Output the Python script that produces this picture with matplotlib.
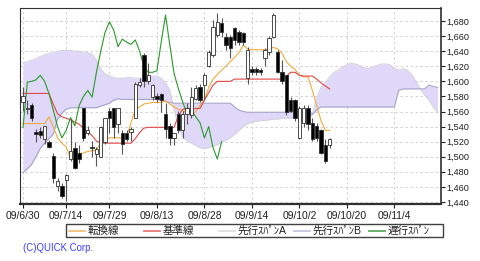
import matplotlib
matplotlib.use("Agg")
import matplotlib.pyplot as plt
from matplotlib.lines import Line2D
from matplotlib.patches import Rectangle

plt.rcParams['font.family'] = ['Liberation Sans', 'Noto Sans CJK JP', 'DejaVu Sans']

# daily candles, index = trading day from 09/6/30
opens = [1573, 1563, 1568, 1533, 1534, 1524, 1519, 1501, 1461, 1461,
         1469, 1497, 1512, 1505, 1565, 1531, 1513, 1503, 1500, 1519,
         1561, 1564, 1544, 1532, 1532, 1533, 1552, 1595, 1635, 1601,
         1579, 1581, 1583, 1557, 1541, 1525, 1557, 1535, 1557, 1555,
         1577, 1593, 1595, 1621, 1635, 1661, 1677, 1659, 1659, 1671,
         1665, 1664, 1604, 1617, 1616, 1615, 1631, 1639, 1659, 1639,
         1612, 1608, 1575, 1575, 1525, 1545, 1565, 1545, 1541, 1535,
         1515, 1516]
highs = [1592, 1575, 1571, 1537, 1540, 1541, 1522, 1505, 1472, 1465,
         1477, 1550, 1519, 1515, 1565, 1541, 1521, 1513, 1541, 1552,
         1564, 1565, 1564, 1535, 1535, 1540, 1599, 1604, 1637, 1624,
         1597, 1584, 1585, 1571, 1545, 1532, 1561, 1561, 1571, 1592,
         1595, 1597, 1611, 1641, 1681, 1691, 1684, 1664, 1661, 1672,
         1668, 1665, 1645, 1620, 1619, 1618, 1644, 1660, 1691, 1641,
         1628, 1608, 1579, 1577, 1567, 1568, 1568, 1551, 1545, 1537,
         1524, 1525]
lows = [1561, 1557, 1547, 1520, 1525, 1517, 1511, 1465, 1455, 1445,
        1441, 1495, 1484, 1492, 1521, 1529, 1499, 1488, 1499, 1517,
        1532, 1525, 1531, 1504, 1521, 1521, 1551, 1592, 1592, 1597,
        1575, 1572, 1559, 1525, 1515, 1515, 1532, 1525, 1544, 1552,
        1575, 1572, 1575, 1619, 1632, 1659, 1659, 1641, 1631, 1648,
        1648, 1648, 1597, 1609, 1609, 1609, 1621, 1635, 1657, 1611,
        1597, 1555, 1559, 1548, 1524, 1539, 1535, 1521, 1521, 1504,
        1492, 1511]
closes = [1580, 1565, 1552, 1530, 1529, 1541, 1513, 1472, 1468, 1448,
          1476, 1508, 1485, 1497, 1525, 1536, 1511, 1510, 1539, 1551,
          1552, 1539, 1564, 1517, 1524, 1537, 1597, 1599, 1601, 1608,
          1595, 1576, 1575, 1537, 1525, 1531, 1535, 1557, 1565, 1579,
          1591, 1575, 1608, 1639, 1672, 1679, 1665, 1648, 1644, 1655,
          1652, 1652, 1641, 1612, 1612, 1612, 1641, 1657, 1688, 1612,
          1601, 1559, 1561, 1552, 1565, 1565, 1544, 1524, 1525, 1505,
          1495, 1524]

tenkan = [1544, 1544, 1544, 1544, 1544, 1544, 1553, 1540, 1525, 1518,
          1513, 1498, 1495, 1504, 1505, 1507, 1508, 1508, 1520, 1524,
          1525, 1525, 1525, 1525, 1527, 1545, 1563, 1566, 1570, 1571,
          1572, 1572, 1572, 1574, 1570, 1566, 1563, 1561, 1558, 1555,
          1560, 1568, 1575, 1592, 1603, 1609, 1615, 1620, 1626, 1632,
          1638, 1648, 1643, 1642, 1642, 1642, 1642, 1643, 1645, 1643,
          1637, 1626, 1620, 1616, 1608, 1606, 1606, 1588, 1568, 1548,
          1535, 1535]
kijun = [1584, 1584, 1584, 1584, 1584, 1584, 1584, 1570, 1557, 1553,
         1551, 1549, 1546, 1543, 1538, 1533, 1528, 1521, 1518, 1518,
         1518, 1518, 1518, 1518, 1518, 1518, 1524, 1532, 1538, 1539,
         1539, 1539, 1539, 1539, 1539, 1539, 1555, 1563, 1564, 1564,
         1564, 1564, 1575, 1585, 1595, 1600, 1600, 1600, 1600, 1603,
         1603, 1603, 1603, 1603, 1603, 1603, 1603, 1603, 1603, 1603,
         1603, 1607, 1612, 1612, 1608, 1607, 1607, 1607, 1603, 1598,
         1594, 1590]
span_a = [1625, 1626, 1628, 1630, 1633, 1635, 1637, 1638, 1640, 1641,
          1641, 1641, 1640, 1640, 1639, 1638, 1636, 1628, 1616, 1610,
          1607, 1605, 1604, 1604, 1605, 1605, 1604, 1604, 1605, 1606,
          1607, 1607, 1604, 1598, 1588, 1562, 1540, 1526, 1521, 1518,
          1515, 1512, 1511, 1512, 1514, 1516, 1519, 1522, 1525, 1530,
          1535, 1540, 1544, 1546, 1547, 1548, 1548, 1549, 1550, 1550,
          1551, 1551, 1551, 1551, 1552, 1552, 1552, 1556, 1578, 1592,
          1598, 1606, 1612, 1615, 1619, 1622, 1624, 1623, 1621, 1618,
          1617, 1619, 1621, 1623, 1623, 1622, 1617, 1615, 1617, 1615,
          1609, 1600, 1590, 1582, 1575, 1566, 1559]
span_b = [1479, 1484, 1490, 1500, 1511, 1518, 1524, 1530, 1550, 1558,
          1563, 1565, 1565, 1565, 1565, 1565, 1565, 1565, 1567, 1569,
          1571, 1575, 1577, 1576, 1576, 1576, 1576, 1576, 1576, 1576,
          1576, 1576, 1575, 1573, 1572, 1571, 1571, 1571, 1571, 1571,
          1571, 1571, 1571, 1571, 1571, 1571, 1571, 1571, 1571, 1566,
          1562, 1560, 1559, 1559, 1559, 1559, 1559, 1559, 1559, 1559,
          1559, 1559, 1559, 1559, 1559, 1559, 1559, 1556, 1562, 1566,
          1566, 1566, 1566, 1566, 1566, 1566, 1566, 1566, 1566, 1566,
          1566, 1566, 1566, 1566, 1566, 1566, 1566, 1588, 1590, 1590,
          1590, 1590, 1590, 1590, 1595, 1593, 1592]
chikou = [1539, 1599, 1600, 1602, 1608, 1600, 1584, 1562, 1540, 1525,
          1535, 1552, 1541, 1568, 1580, 1588, 1579, 1612, 1640, 1665,
          1679, 1668, 1646, 1656, 1652, 1649, 1655, 1640, 1620, 1612,
          1612, 1614, 1652, 1688, 1648, 1610, 1590, 1572, 1557, 1561,
          1553, 1545, 1525, 1540, 1512, 1497, 1520]

date_labels = ['09/6/30', '09/7/14', '09/7/29', '09/8/13', '09/8/28',
               '09/9/14', '09/10/2', '09/10/20', '09/11/4']
date_idx = [0, 10, 20, 31, 42, 53, 64, 75, 86]

legend_names = ['転換線', '基準線', '先行ｽﾊﾟﾝA', '先行ｽﾊﾟﾝB', '遅行ｽﾊﾟﾝ']
c_tenkan = '#f0aa40'
c_kijun = '#e04848'
c_a = '#d4d4e0'
c_b = '#a4a4cc'
c_chikou = '#2a9a2a'
legend_colors = ['#f4c27a', '#e87a7a', '#dedede', '#c4c4dc', '#5aae5a']

fig = plt.figure(figsize=(4.8, 2.61), dpi=100)
ax = fig.add_axes([20/480, 1-204/261, 421/480, 196/261])

xc = list(range(len(span_a)))
ax.fill_between(xc, span_a, span_b, color='#e0d8f8', lw=0, zorder=1)
ax.plot(xc, span_a, color=c_a, lw=0.8, zorder=2)
ax.plot(xc, span_b, color=c_b, lw=0.8, zorder=2)

xs = list(range(len(closes)))
ax.plot(xs, tenkan, color=c_tenkan, lw=0.8, zorder=3)
ax.plot(xs, kijun, color=c_kijun, lw=0.8, zorder=3)
ax.plot(list(range(len(chikou))), chikou, color=c_chikou, lw=0.8, zorder=3)

# candles
ax.vlines(xs, lows, highs, color='#555555', lw=0.8, zorder=4)
for i in xs:
    o, c = opens[i], closes[i]
    h = max(abs(c - o), 1.2)
    face = 'white' if c >= o else 'black'
    ax.bar(i, h, bottom=min(o, c), width=0.78, color=face,
           edgecolor='#303030', lw=0.6, zorder=5)

ax.set_xlim(-0.7, 96.8)
ax.set_ylim(1437.3, 1697.3)
ax.set_yticks(range(1440, 1681, 20))
ax.set_yticklabels(['{:,}'.format(v) for v in range(1440, 1681, 20)])
ax.yaxis.tick_right()
ax.set_xticks(date_idx)
ax.set_xticklabels(date_labels)
ax.tick_params(axis='y', labelsize=6.6, length=3, width=0.8, pad=1, colors='#202020')
ax.tick_params(axis='x', labelsize=7.4, length=3, width=0.8, pad=2, colors='#202020')
ax.grid(True, color='#cccccc', linestyle=(0, (3, 3)), lw=0.6, zorder=0)
ax.set_axisbelow(True)
for s in ['left', 'top']:
    ax.spines[s].set_linewidth(0.8)
ax.spines['right'].set_linewidth(1.2)
ax.spines['bottom'].set_linewidth(1.6)
for s in ax.spines.values():
    s.set_color('#303030')

# legend box
fig.patches.append(Rectangle((66/480, 1-237/261), 377/480, 13/261,
                             transform=fig.transFigure, facecolor='white',
                             edgecolor='#404040', lw=1))
ly = 1 - 230.5/261
for k, name in enumerate(legend_names):
    x0 = 69 + 75*k
    fig.lines.append(Line2D([x0/480, (x0+16)/480], [ly, ly], transform=fig.transFigure,
                            color=legend_colors[k], lw=1.3))
    fig.text((x0+19)/480, ly, name, fontsize=7.6, va='center', ha='left', color='#202020')

fig.text(23/480, 1-248/261, '(C)QUICK Corp.', fontsize=6.9, color='#3c3cff', va='center')

fig.savefig('out.png', dpi=100)
